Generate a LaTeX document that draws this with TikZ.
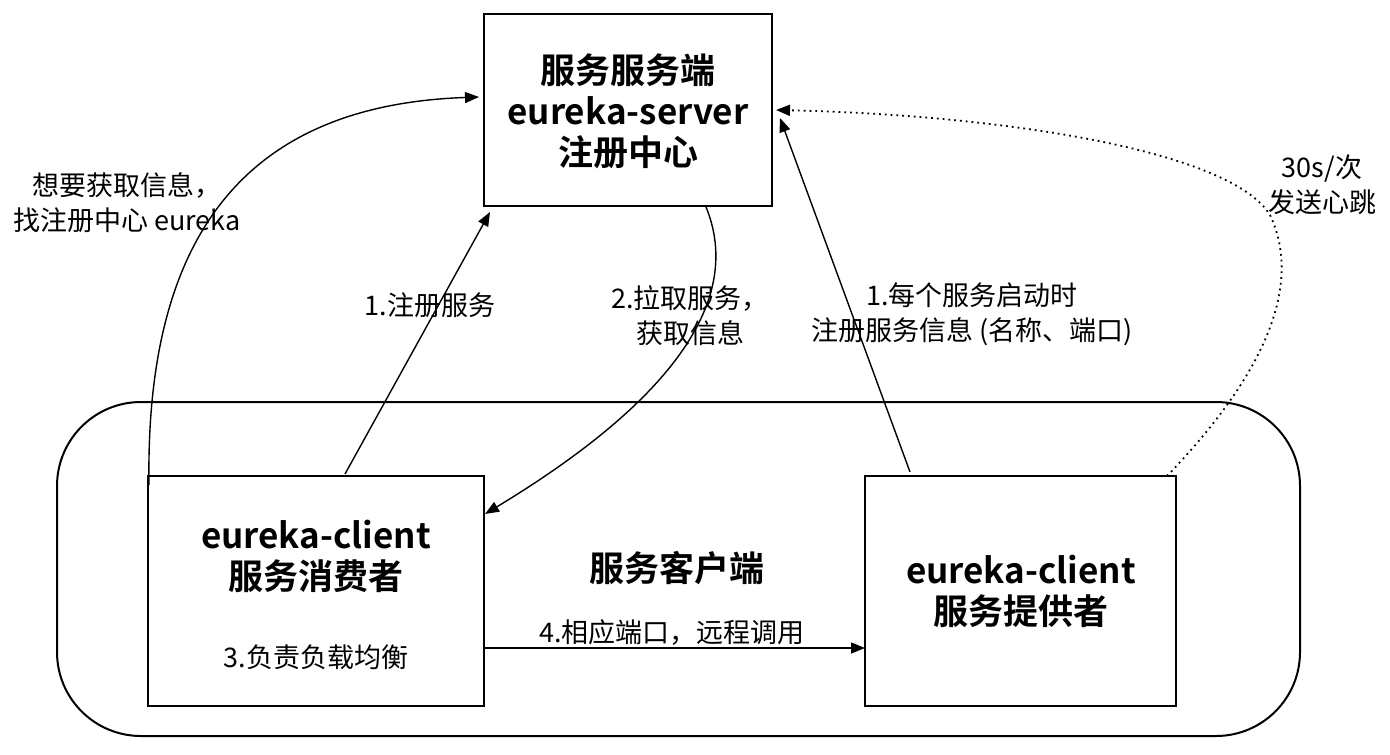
\documentclass[tikz,border=0pt]{standalone}
\usepackage{fontspec}
\setmainfont{Noto Sans CJK SC}[BoldFont={Noto Sans CJK SC Bold}]
\usetikzlibrary{arrows.meta}
\begin{document}
\begin{tikzpicture}[x=0.5pt,y=-0.5pt,
  box/.style={draw,line width=1pt,inner sep=0pt},
  big/.style={font=\bfseries\fontsize{17.5pt}{20.5pt}\selectfont,align=center},
  lbl/.style={font=\fontsize{13.5pt}{17.5pt}\selectfont,align=center},
  conn/.style={line width=0.7pt,-{Triangle[length=7pt,width=5.5pt]}},
  dotconn/.style={line width=0.9pt,dotted,-{Triangle[length=7pt,width=5.5pt]}}]
\useasboundingbox (0,0) rectangle (1390,754);
% group
\draw[line width=1pt,rounded corners=42pt] (57,402) rectangle (1300,736);
% boxes
\node[box,minimum width=144pt,minimum height=96pt] (srv) at (628,110) {};
\node[box,minimum width=168pt,minimum height=115pt] (cons) at (316,591) {};
\node[box,minimum width=155.5pt,minimum height=115pt] (prov) at (1020.5,591) {};
\node[big] (srvt) at (628,111) {服务服务端\\eureka-server\\注册中心};
\node[big] (const) at (316,556) {eureka-client\\服务消费者};
\node[lbl] (lb) at (316,657) {3.负责负载均衡};
\node[big] (provt) at (1021,591) {eureka-client\\服务提供者};
\node[big] (grp) at (677,568) {服务客户端};
% coordinates
\coordinate (c1s) at (345,474);
\coordinate (c1e) at (490,212);
\coordinate (c2s) at (706,207);
\coordinate (c2e) at (485,514);
\coordinate (c3s) at (149,485);
\coordinate (c3e) at (479,97);
\coordinate (p1s) at (910,472);
\coordinate (p1e) at (780,118);
\coordinate (hbs) at (1167,476);
\coordinate (hbm) at (1270,215);
\coordinate (hbe) at (776,110);
\coordinate (a4s) at (484,648);
\coordinate (a4e) at (865,648);
% connectors
\draw[conn] (c1s) -- (c1e);
\draw[conn] (c2s) .. controls (740,290) and (690,390) .. (c2e);
\draw[conn] (c3s) .. controls (145,230) and (250,105) .. (c3e);
\draw[conn] (p1s) -- (p1e);
\draw[dotconn] (hbs) .. controls (1240,400) and (1310,300) .. (hbm) .. controls (1230,150) and (1000,115) .. (hbe);
\draw[conn] (a4s) -- (a4e);
% labels
\node[lbl] (l3) at (127,203) {想要获取信息，\\找注册中心 eureka};
\node[lbl] (l1) at (430,305) {1.注册服务};
\node[lbl] (l2) at (690,316) {2.拉取服务，\\获取信息};
\node[lbl] (lp) at (972,314) {1.每个服务启动时\\注册服务信息 (名称、端口)};
\node[lbl] (lh) at (1322,185) {30s/次\\发送心跳};
\node[lbl] (l4) at (672,632) {4.相应端口，远程调用};
\end{tikzpicture}
\end{document}
